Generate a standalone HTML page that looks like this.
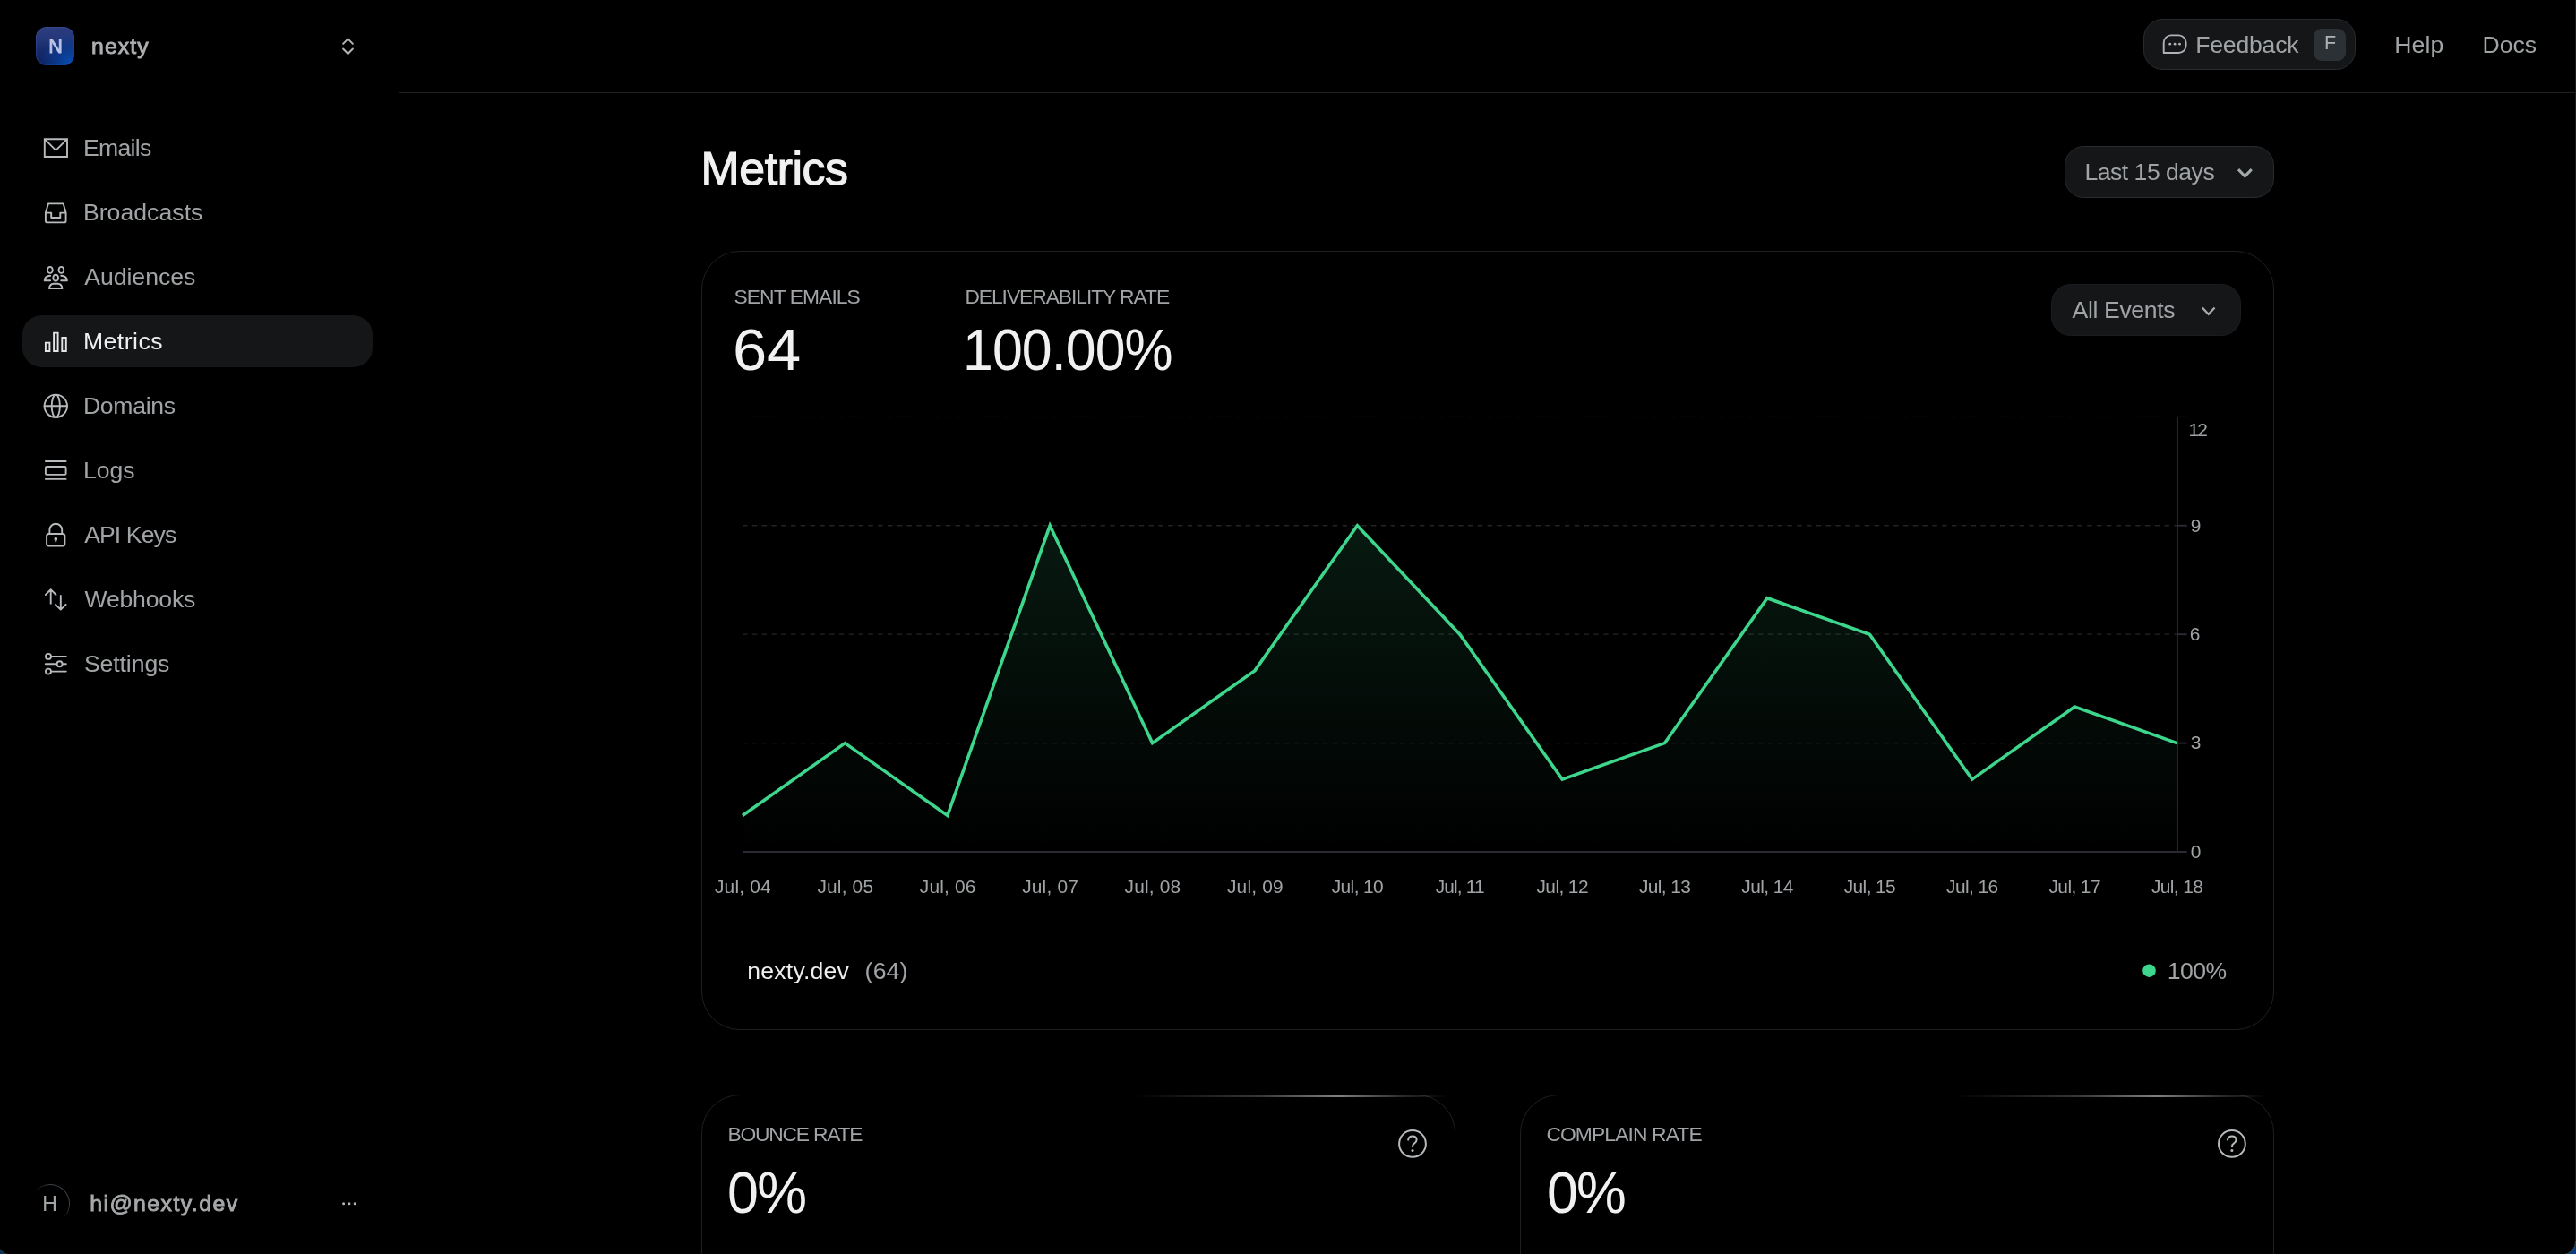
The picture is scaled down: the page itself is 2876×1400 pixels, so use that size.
<!DOCTYPE html>
<html lang="en">
<head>
<meta charset="utf-8">
<title>Metrics</title>
<style>
*{box-sizing:border-box;margin:0;padding:0}
html,body{width:2876px;height:1400px;overflow:hidden;background:#000}
body{position:relative;font-family:"Liberation Sans",sans-serif;color:#a1a4a6}
.abs{position:absolute}
.t{position:absolute;white-space:nowrap;line-height:0;height:0}
.ic{position:absolute;left:0;top:0;fill:none;stroke:#b7babc;stroke-width:1.9;stroke-linecap:round;stroke-linejoin:round}
.card{position:absolute;border:1px solid #1c2023;border-radius:43px;background:#000}
.btn{position:absolute;background:#151618;border:1px solid #272c30;border-radius:21.6px}
.hl{position:absolute;height:2px;width:350px;background:linear-gradient(90deg,rgba(255,255,255,0) 0%,rgba(255,255,255,.22) 40%,rgba(255,255,255,.5) 65%,rgba(255,255,255,.18) 85%,rgba(255,255,255,0) 100%)}
</style>
</head>
<body>
<!-- structure -->
<div class="abs" style="left:445px;top:0;width:1px;height:1400px;background:#1e2225"></div>
<div class="abs" style="left:446px;top:103px;width:2430px;height:1px;background:#1e2225"></div>
<div class="abs" style="left:2875px;top:0;width:1px;height:1386px;background:#1b1b1b"></div>
<svg class="abs" style="left:0;top:0" width="2876" height="1400" viewBox="0 0 2876 1400">
<path d="M2860.3 1401 H2877 V1385.5 H2875.8 A15.5 15.5 0 0 1 2860.3 1401 Z" fill="#0d3b7c"/>
<path d="M2875.8 1385.5 A15.5 15.5 0 0 1 2860.3 1401" fill="none" stroke="#3b4a5c" stroke-width="1"/>
<path d="M12 1401 H-1 V1385.5 H-3.5 A15.5 15.5 0 0 0 12 1401 Z" fill="#0a2e55"/>
<path d="M-3.5 1385.5 A15.5 15.5 0 0 0 12 1401" fill="none" stroke="#39424a" stroke-width="1"/>
</svg>

<!-- workspace avatar -->
<div class="abs" style="left:40px;top:30px;width:43px;height:43px;border-radius:12px;background:linear-gradient(176deg,#2c3e7d 0%,#26387a 28%,#172b6d 55%,#0b1e5d 100%);box-shadow:inset 0 0 0 1px rgba(90,120,210,.2)"></div>
<div class="abs" style="left:40px;top:30px;width:43px;height:43px;border-radius:12px;background:radial-gradient(circle at 92% 98%,rgba(8,84,192,.9) 0,rgba(8,74,172,.55) 28%,rgba(10,70,170,0) 62%)"></div>

<!-- active nav pill -->
<div class="abs" style="left:25px;top:352px;width:391px;height:58px;border-radius:21.6px;background:#151618"></div>

<!-- user avatar ring -->
<div class="abs" style="left:34px;top:1322px;width:44px;height:44px;border-radius:50%;background:linear-gradient(225deg,#4d575e 0%,#3b4349 25%,rgba(59,67,73,0) 56%)"></div>
<div class="abs" style="left:35.2px;top:1323.2px;width:41.6px;height:41.6px;border-radius:50%;background:#000"></div>

<!-- header buttons -->
<div class="btn" style="left:2393px;top:21px;width:237px;height:57px"></div>
<div class="abs" style="left:2583px;top:32px;width:36px;height:36px;border-radius:9px;background:#2c3135"></div>
<div class="btn" style="left:2305px;top:163px;width:234px;height:58px"></div>

<!-- cards -->
<div class="card" style="left:783px;top:280px;width:1756px;height:870px"></div>
<div class="card" style="left:783px;top:1222px;width:842px;height:300px"></div>
<div class="card" style="left:1697px;top:1222px;width:842px;height:300px"></div>
<div class="hl" style="left:1267px;top:1223px"></div>
<div class="hl" style="left:2181px;top:1223px"></div>
<div class="btn" style="left:2290px;top:317px;width:212px;height:58px;border-color:#1a1c1f"></div>

<svg class="abs" style="left:0;top:0" width="2876" height="1400" viewBox="0 0 2876 1400">
<defs><linearGradient id="ag" x1="0" y1="0" x2="0" y2="1"><stop offset="0" stop-color="#3dd68c" stop-opacity="0.12"/><stop offset="1" stop-color="#3dd68c" stop-opacity="0"/></linearGradient></defs>
<line x1="829.0" y1="465.36" x2="2430.6" y2="465.36" stroke="#222528" stroke-width="0.8" stroke-dasharray="5.4 5.4"/>
<line x1="829.0" y1="586.77" x2="2430.6" y2="586.77" stroke="#222528" stroke-width="1.3" stroke-dasharray="5.4 5.4"/>
<line x1="829.0" y1="708.18" x2="2430.6" y2="708.18" stroke="#222528" stroke-width="1.3" stroke-dasharray="5.4 5.4"/>
<line x1="829.0" y1="829.59" x2="2430.6" y2="829.59" stroke="#222528" stroke-width="1.3" stroke-dasharray="5.4 5.4"/>
<path d="M829.0,951.0 L829.0,910.5 L943.4,829.6 L1057.8,910.5 L1172.2,586.8 L1286.6,829.6 L1401.0,748.6 L1515.4,586.8 L1629.8,708.2 L1744.2,870.1 L1858.6,829.6 L1973.0,667.7 L2087.4,708.2 L2201.8,870.1 L2316.2,789.1 L2430.6,829.6 L2430.6,951.0 Z" fill="url(#ag)"/>
<line x1="829.0" y1="951.0" x2="2441.6" y2="951.0" stroke="#2b2b34" stroke-width="1.9"/>
<line x1="2430.9" y1="465.4" x2="2430.9" y2="951.9" stroke="#2b2b34" stroke-width="1.9"/>
<line x1="2430.6" y1="465.36" x2="2441.6" y2="465.36" stroke="#2b2b34" stroke-width="1.0"/>
<line x1="2430.6" y1="586.77" x2="2441.6" y2="586.77" stroke="#2b2b34" stroke-width="1.9"/>
<line x1="2430.6" y1="708.18" x2="2441.6" y2="708.18" stroke="#2b2b34" stroke-width="1.9"/>
<line x1="2430.6" y1="829.59" x2="2441.6" y2="829.59" stroke="#2b2b34" stroke-width="1.9"/>
<polyline points="829.0,910.5 943.4,829.6 1057.8,910.5 1172.2,586.8 1286.6,829.6 1401.0,748.6 1515.4,586.8 1629.8,708.2 1744.2,870.1 1858.6,829.6 1973.0,667.7 2087.4,708.2 2201.8,870.1 2316.2,789.1 2430.6,829.6" fill="none" stroke="#3dd68c" stroke-width="3.6" stroke-linejoin="miter"/>
</svg>

<!-- icons -->
<svg class="ic" width="2876" height="1400" viewBox="0 0 2876 1400">
<!-- workspace chevrons -->
<path d="M383.1 48.9 L388.5 43.4 L393.9 48.9 M383.1 54.5 L388.5 60 L393.9 54.5" stroke="#b2b4b6" stroke-width="2"/>
<!-- emails -->
<path d="M49.8 155.2 H75 V175 H49.8 Z M50 155.4 L61.4 166.8 Q62.4 167.7 63.4 166.8 L74.8 155.4" stroke-linejoin="miter"/>
<!-- broadcasts -->
<path d="M53.9 227.4 H70.7 L73.6 237.6 V246.4 Q73.6 248.4 71.6 248.4 H52.9 Q50.9 248.4 50.9 246.4 V237.6 Z M50.9 237.6 H57.2 V243 H67.3 V237.6 H73.6"/>
<!-- audiences -->
<ellipse cx="55.9" cy="301.4" rx="2.85" ry="3.5"/><ellipse cx="68.4" cy="301.4" rx="2.85" ry="3.5"/><ellipse cx="62.2" cy="310.2" rx="2.85" ry="3.6"/>
<path d="M56.2 307.8 Q50 308.3 49.7 313.2 H56.2 M68.2 307.8 Q74.6 308.3 74.9 313.2 H68.2 M54.9 322.1 Q55.6 316.7 59.9 316.7 H64.5 Q68.8 316.7 69.5 322.1 Z"/>
<!-- metrics (active) -->
<path d="M50.9 382.6 H55.4 V392 H50.9 Z M60.1 371.6 H64.6 V392 H60.1 Z M69.3 377 H73.8 V392 H69.3 Z" stroke="#e4e5e6" stroke-linejoin="miter"/>
<!-- domains -->
<circle cx="62.3" cy="453.3" r="12.7"/><path d="M49.6 453.3 H75"/><ellipse cx="62.3" cy="453.3" rx="4.6" ry="12.7"/>
<!-- logs -->
<path d="M50.9 515 H73.6 M50.9 534.9 H73.6"/><rect x="50.9" y="521" width="22.7" height="8.9" rx="1.2"/>
<!-- api keys -->
<rect x="52.1" y="596" width="20.3" height="13.5" rx="2.6"/><path d="M55.4 596 V591.6 A6.9 6.9 0 0 1 69.2 591.6 V596"/>
<circle cx="62.3" cy="601.7" r="0.9" fill="#b7babc"/><path d="M62.3 602 V604.4"/>
<!-- webhooks -->
<path d="M56.7 673.8 V658.4 M50.9 664 L56.7 658.2 L62.5 664 M67.8 665 V680.4 M62 674.8 L67.8 680.6 L73.6 674.8"/>
<!-- settings -->
<path d="M57.8 732.9 H73.8 M50.8 741.2 H62.8 M70.4 741.2 H73.8 M57.8 749.6 H73.8"/>
<circle cx="54" cy="732.9" r="3"/><circle cx="66.6" cy="741.2" r="3"/><circle cx="54" cy="749.6" r="3"/>
<!-- user more -->
<g fill="#b4b7b9" stroke="none"><circle cx="383.6" cy="1343.8" r="1.5"/><circle cx="389.9" cy="1343.8" r="1.5"/><circle cx="396.2" cy="1343.8" r="1.5"/></g>
<!-- feedback chat -->
<path d="M2415.7 59 V47.6 A8.2 8.2 0 0 1 2423.9 39.4 H2432.4 A8.2 8.2 0 0 1 2440.6 47.6 V50.8 A8.2 8.2 0 0 1 2432.4 59 Z" stroke="#b2b1b8"/>
<g fill="#b2b1b8" stroke="none"><circle cx="2422.7" cy="49.2" r="1.4"/><circle cx="2428.1" cy="49.2" r="1.4"/><circle cx="2433.5" cy="49.2" r="1.4"/></g>
<!-- chevrons -->
<path d="M2499 189.1 L2506.4 196.9 L2513.8 189.1" stroke="#a6a9ab" stroke-width="3" stroke-linecap="butt" stroke-linejoin="miter"/>
<path d="M2458.8 343.5 L2465.7 350.8 L2472.6 343.5" stroke="#a6a9ab" stroke-width="2.4" stroke-linecap="butt" stroke-linejoin="miter"/>
<circle cx="2399.5" cy="1083.7" r="7.3" fill="#3dd68c" stroke="none"/>
<!-- help icons -->
<circle cx="1577" cy="1276.9" r="14.9" stroke-width="2"/>
<path d="M1572.2 1272.6 Q1572.6 1268.4 1577 1268.4 Q1581.6 1268.4 1581.6 1272.4 Q1581.6 1275 1579 1276.6 Q1577 1277.8 1577 1280" stroke-width="2"/>
<circle cx="1577" cy="1284.6" r="1.5" fill="#b7babc" stroke="none"/>
<circle cx="2491.9" cy="1276.9" r="14.9" stroke-width="2"/>
<path d="M2487.1 1272.6 Q2487.5 1268.4 2491.9 1268.4 Q2496.5 1268.4 2496.5 1272.4 Q2496.5 1275 2493.9 1276.6 Q2491.9 1277.8 2491.9 1280" stroke-width="2"/>
<circle cx="2491.9" cy="1284.6" r="1.5" fill="#b7babc" stroke="none"/>
</svg>

<!-- texts -->
<div id="texts" style="position:absolute;left:0;top:0;width:2876px;height:1400px;will-change:transform">
<div class="t" id="ws" style="left:102.05px;top:51.96px;font-size:24.8px;letter-spacing:1.108px;color:#acaeb0;-webkit-text-stroke:0.9px #acaeb0;">nexty</div>
<div class="t" id="wsN" style="left:54.25px;top:52.27px;font-size:21.6px;letter-spacing:0.000px;color:#b9c3e6;-webkit-text-stroke:0.9px #b9c3e6;">N</div>
<div class="t" id="nav0" style="left:92.90px;top:164.98px;font-size:26.6px;letter-spacing:-0.659px;color:#a1a4a6;">Emails</div>
<div class="t" id="nav1" style="left:92.90px;top:236.98px;font-size:26.6px;letter-spacing:0.051px;color:#a1a4a6;">Broadcasts</div>
<div class="t" id="nav2" style="left:94.20px;top:308.98px;font-size:26.6px;letter-spacing:-0.012px;color:#a1a4a6;">Audiences</div>
<div class="t" id="nav3" style="left:92.90px;top:380.98px;font-size:26.6px;letter-spacing:0.501px;color:#eeeeef;">Metrics</div>
<div class="t" id="nav4" style="left:92.90px;top:452.98px;font-size:26.6px;letter-spacing:-0.289px;color:#a1a4a6;">Domains</div>
<div class="t" id="nav5" style="left:92.90px;top:524.98px;font-size:26.6px;letter-spacing:-0.024px;color:#a1a4a6;">Logs</div>
<div class="t" id="nav6" style="left:94.20px;top:596.98px;font-size:26.6px;letter-spacing:-0.897px;color:#a1a4a6;">API Keys</div>
<div class="t" id="nav7" style="left:94.50px;top:668.98px;font-size:26.6px;letter-spacing:-0.195px;color:#a1a4a6;">Webhooks</div>
<div class="t" id="nav8" style="left:93.90px;top:740.98px;font-size:26.6px;letter-spacing:-0.085px;color:#a1a4a6;">Settings</div>
<div class="t" id="avH" style="left:47.30px;top:1343.83px;font-size:23.0px;letter-spacing:0.000px;color:#a1a4a6;">H</div>
<div class="t" id="user" style="left:100.15px;top:1343.76px;font-size:24.8px;letter-spacing:1.475px;color:#a6a8aa;-webkit-text-stroke:0.9px #a6a8aa;">hi@nexty.dev</div>
<div class="t" id="fb" style="left:2451.20px;top:50.18px;font-size:26.6px;letter-spacing:-0.199px;color:#a1a4a6;">Feedback</div>
<div class="t" id="kbd" style="left:2595.10px;top:48.45px;font-size:21.5px;letter-spacing:0.000px;color:#b0b3b5;">F</div>
<div class="t" id="help" style="left:2673.30px;top:50.18px;font-size:26.6px;letter-spacing:0.099px;color:#a1a4a6;">Help</div>
<div class="t" id="docs" style="left:2771.50px;top:50.18px;font-size:26.6px;letter-spacing:0.003px;color:#a1a4a6;">Docs</div>
<div class="t" id="h1" style="left:782.50px;top:188.35px;font-size:51.8px;letter-spacing:-0.400px;color:#f1f1f1;-webkit-text-stroke:1.2px #f1f1f1;">Metrics</div>
<div class="t" id="range" style="left:2327.50px;top:191.68px;font-size:26.6px;letter-spacing:-0.509px;color:#a1a4a6;">Last 15 days</div>
<div class="t" id="l1" style="left:819.50px;top:331.10px;font-size:22.8px;letter-spacing:-0.905px;color:#a1a4a6;">SENT EMAILS</div>
<div class="t" id="v1" style="left:817.85px;top:390.54px;font-size:65.4px;letter-spacing:-0.081px;color:#f1f1f1;transform:scaleX(1.05);transform-origin:0 0;">64</div>
<div class="t" id="l2" style="left:1077.40px;top:331.10px;font-size:22.8px;letter-spacing:-1.043px;color:#a1a4a6;">DELIVERABILITY RATE</div>
<div class="t" id="v2" style="left:1074.68px;top:390.54px;font-size:65.4px;letter-spacing:-0.979px;color:#f1f1f1;transform:scaleX(0.93);transform-origin:0 0;">100.00%</div>
<div class="t" id="ev" style="left:2313.50px;top:345.68px;font-size:26.6px;letter-spacing:-0.361px;color:#a1a4a6;">All Events</div>
<div class="t" id="y12" style="left:2443.60px;top:480.16px;font-size:20.9px;letter-spacing:-2.018px;color:#a1a4a6;">12</div>
<div class="t" id="y9" style="left:2445.80px;top:586.53px;font-size:20.9px;letter-spacing:0.000px;color:#a1a4a6;">9</div>
<div class="t" id="y6" style="left:2444.80px;top:707.94px;font-size:20.9px;letter-spacing:0.000px;color:#a1a4a6;">6</div>
<div class="t" id="y3" style="left:2445.80px;top:829.35px;font-size:20.9px;letter-spacing:0.000px;color:#a1a4a6;">3</div>
<div class="t" id="y0" style="left:2445.80px;top:950.76px;font-size:20.9px;letter-spacing:0.000px;color:#a1a4a6;">0</div>
<div class="t" id="x0" style="left:798.00px;top:989.96px;font-size:20.9px;letter-spacing:0.178px;color:#a1a4a6;">Jul, 04</div>
<div class="t" id="x1" style="left:912.40px;top:989.96px;font-size:20.9px;letter-spacing:0.178px;color:#a1a4a6;">Jul, 05</div>
<div class="t" id="x2" style="left:1026.80px;top:989.96px;font-size:20.9px;letter-spacing:0.178px;color:#a1a4a6;">Jul, 06</div>
<div class="t" id="x3" style="left:1141.20px;top:989.96px;font-size:20.9px;letter-spacing:0.178px;color:#a1a4a6;">Jul, 07</div>
<div class="t" id="x4" style="left:1255.60px;top:989.96px;font-size:20.9px;letter-spacing:0.178px;color:#a1a4a6;">Jul, 08</div>
<div class="t" id="x5" style="left:1370.00px;top:989.96px;font-size:20.9px;letter-spacing:0.178px;color:#a1a4a6;">Jul, 09</div>
<div class="t" id="x6" style="left:1486.70px;top:989.96px;font-size:20.9px;letter-spacing:-0.589px;color:#a1a4a6;">Jul, 10</div>
<div class="t" id="x7" style="left:1602.65px;top:989.96px;font-size:20.9px;letter-spacing:-0.847px;color:#a1a4a6;">Jul, 11</div>
<div class="t" id="x8" style="left:1715.50px;top:989.96px;font-size:20.9px;letter-spacing:-0.589px;color:#a1a4a6;">Jul, 12</div>
<div class="t" id="x9" style="left:1829.90px;top:989.96px;font-size:20.9px;letter-spacing:-0.589px;color:#a1a4a6;">Jul, 13</div>
<div class="t" id="x10" style="left:1944.30px;top:989.96px;font-size:20.9px;letter-spacing:-0.589px;color:#a1a4a6;">Jul, 14</div>
<div class="t" id="x11" style="left:2058.70px;top:989.96px;font-size:20.9px;letter-spacing:-0.589px;color:#a1a4a6;">Jul, 15</div>
<div class="t" id="x12" style="left:2173.10px;top:989.96px;font-size:20.9px;letter-spacing:-0.589px;color:#a1a4a6;">Jul, 16</div>
<div class="t" id="x13" style="left:2287.50px;top:989.96px;font-size:20.9px;letter-spacing:-0.589px;color:#a1a4a6;">Jul, 17</div>
<div class="t" id="x14" style="left:2401.90px;top:989.96px;font-size:20.9px;letter-spacing:-0.589px;color:#a1a4a6;">Jul, 18</div>
<div class="t" id="dom" style="left:834.30px;top:1083.68px;font-size:26.6px;letter-spacing:0.205px;color:#eeeeef;">nexty.dev</div>
<div class="t" id="domc" style="left:965.60px;top:1083.68px;font-size:26.6px;letter-spacing:0.188px;color:#a1a4a6;">(64)</div>
<div class="t" id="pct" style="left:2419.70px;top:1083.68px;font-size:26.6px;letter-spacing:-0.557px;color:#a1a4a6;">100%</div>
<div class="t" id="l3" style="left:812.40px;top:1266.10px;font-size:22.8px;letter-spacing:-1.197px;color:#a1a4a6;">BOUNCE RATE</div>
<div class="t" id="v3" style="left:812.38px;top:1332.34px;font-size:65.4px;letter-spacing:-1.617px;color:#f1f1f1;transform:scaleX(0.96);transform-origin:0 0;">0%</div>
<div class="t" id="l4" style="left:1726.40px;top:1266.10px;font-size:22.8px;letter-spacing:-0.859px;color:#a1a4a6;">COMPLAIN RATE</div>
<div class="t" id="v4" style="left:1726.98px;top:1332.34px;font-size:65.4px;letter-spacing:-2.034px;color:#f1f1f1;transform:scaleX(0.96);transform-origin:0 0;">0%</div>
</div>
</body>
</html>
